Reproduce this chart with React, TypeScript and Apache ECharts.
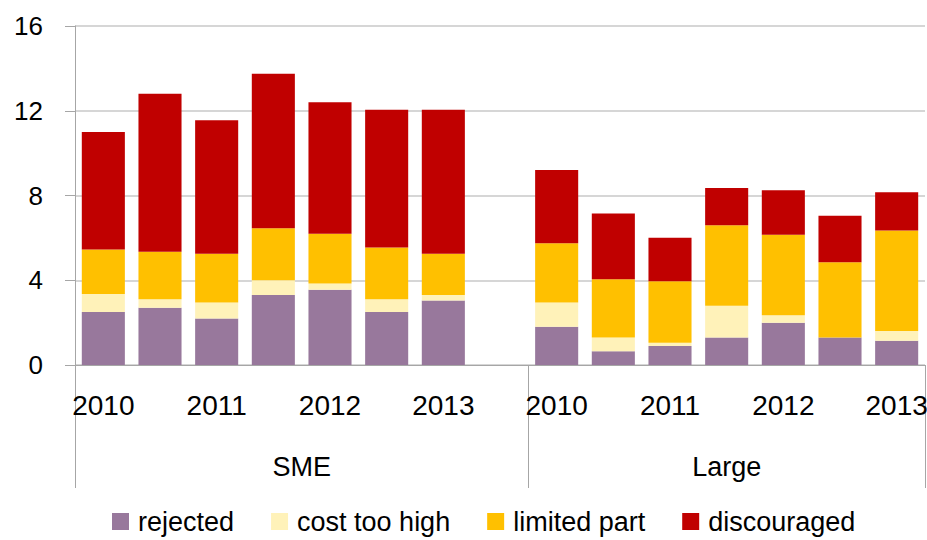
import React, { useEffect, useRef } from "react";
import * as echarts from "echarts";

const categories = [
  "SME-1", "SME-2", "SME-3", "SME-4", "SME-5", "SME-6", "SME-7", "gap",
  "Large-1", "Large-2", "Large-3", "Large-4", "Large-5", "Large-6", "Large-7",
];
const yearLabels = [
  "2010", "", "2011", "", "2012", "", "2013", "",
  "2010", "", "2011", "", "2012", "", "2013",
];
const groupLabels = ["SME", "Large"];
const groupCenters = [4, 11.5];
const groupBounds = [0, 8, 15];

const rejected = [2.5, 2.7, 2.2, 3.3, 3.55, 2.5, 3.05, null, 1.8, 0.65, 0.9, 1.3, 2.0, 1.3, 1.15];
const costTooHigh = [0.85, 0.4, 0.75, 0.7, 0.3, 0.6, 0.25, null, 1.15, 0.65, 0.15, 1.5, 0.35, 0, 0.45];
const limitedPart = [2.1, 2.25, 2.3, 2.45, 2.35, 2.45, 1.95, null, 2.8, 2.75, 2.9, 3.8, 3.8, 3.55, 4.75];
const discouraged = [5.55, 7.45, 6.3, 7.3, 6.2, 6.5, 6.8, null, 3.45, 3.1, 2.05, 1.75, 2.1, 2.2, 1.8];

const seriesNames = ["rejected", "cost too high", "limited part", "discouraged"];
const seriesColors = ["#98789C", "#FFF2B9", "#FFC000", "#C00000"];

const FONT = "Liberation Sans, Arial, sans-serif";

export default function App() {
  const ref = useRef<HTMLDivElement>(null);

  useEffect(() => {
    document.body.style.margin = "0";
    if (!ref.current) return;
    const chart = echarts.init(ref.current, null, { renderer: "svg" });
    const dataSets = [rejected, costTooHigh, limitedPart, discouraged];
    chart.setOption({
      animation: false,
      textStyle: { fontFamily: FONT },
      grid: {
        left: 75,
        right: 2,
        top: 26,
        bottom: 175,
        containLabel: false,
        outerBoundsMode: "none",
      },
      legend: {
        data: seriesNames,
        left: 112,
        top: 508,
        padding: 0,
        itemWidth: 17,
        itemHeight: 17,
        itemGap: 37,
        icon: "rect",
        textStyle: {
          fontSize: 27,
          color: "#000",
          fontFamily: FONT,
          padding: [0, 0, 0, 4],
        },
      },
      xAxis: [
        {
          type: "category",
          data: categories,
          position: "bottom",
          axisLine: { show: true, lineStyle: { color: "#A6A6A6", width: 1 } },
          axisTick: { show: false },
          splitLine: { show: false },
          axisLabel: {
            interval: 0,
            margin: 26,
            fontSize: 28,
            color: "#000",
            fontFamily: FONT,
            formatter: (_v: string, i: number) => yearLabels[i],
          },
        },
        {
          type: "value",
          min: 0,
          max: 15,
          position: "bottom",
          axisLine: { show: false },
          splitLine: { show: false },
          axisTick: {
            show: true,
            customValues: groupBounds,
            length: 123,
            lineStyle: { color: "#A6A6A6", width: 1 },
          },
          axisLabel: {
            show: true,
            customValues: groupCenters,
            margin: 88,
            fontSize: 27,
            color: "#000",
            fontFamily: FONT,
            formatter: (v: number) => {
              const idx = groupCenters.indexOf(v);
              return idx >= 0 ? groupLabels[idx] : "";
            },
          },
        },
      ],
      yAxis: {
        type: "value",
        min: 0,
        max: 16,
        interval: 4,
        axisLine: { show: true, lineStyle: { color: "#A6A6A6", width: 1 } },
        axisTick: { show: true, length: 10, lineStyle: { color: "#A6A6A6" } },
        splitLine: { show: true, lineStyle: { color: "#C8C8C8", width: 1.5 } },
        axisLabel: { fontSize: 26, margin: 32, color: "#000", fontFamily: FONT },
      },
      series: dataSets.map((d, k) => ({
        name: seriesNames[k],
        type: "bar",
        stack: "total",
        xAxisIndex: 0,
        barWidth: "76%",
        data: d,
        itemStyle: { color: seriesColors[k] },
      })),
    });
    return () => chart.dispose();
  }, []);

  return <div ref={ref} style={{ width: 927, height: 540 }} />;
}
